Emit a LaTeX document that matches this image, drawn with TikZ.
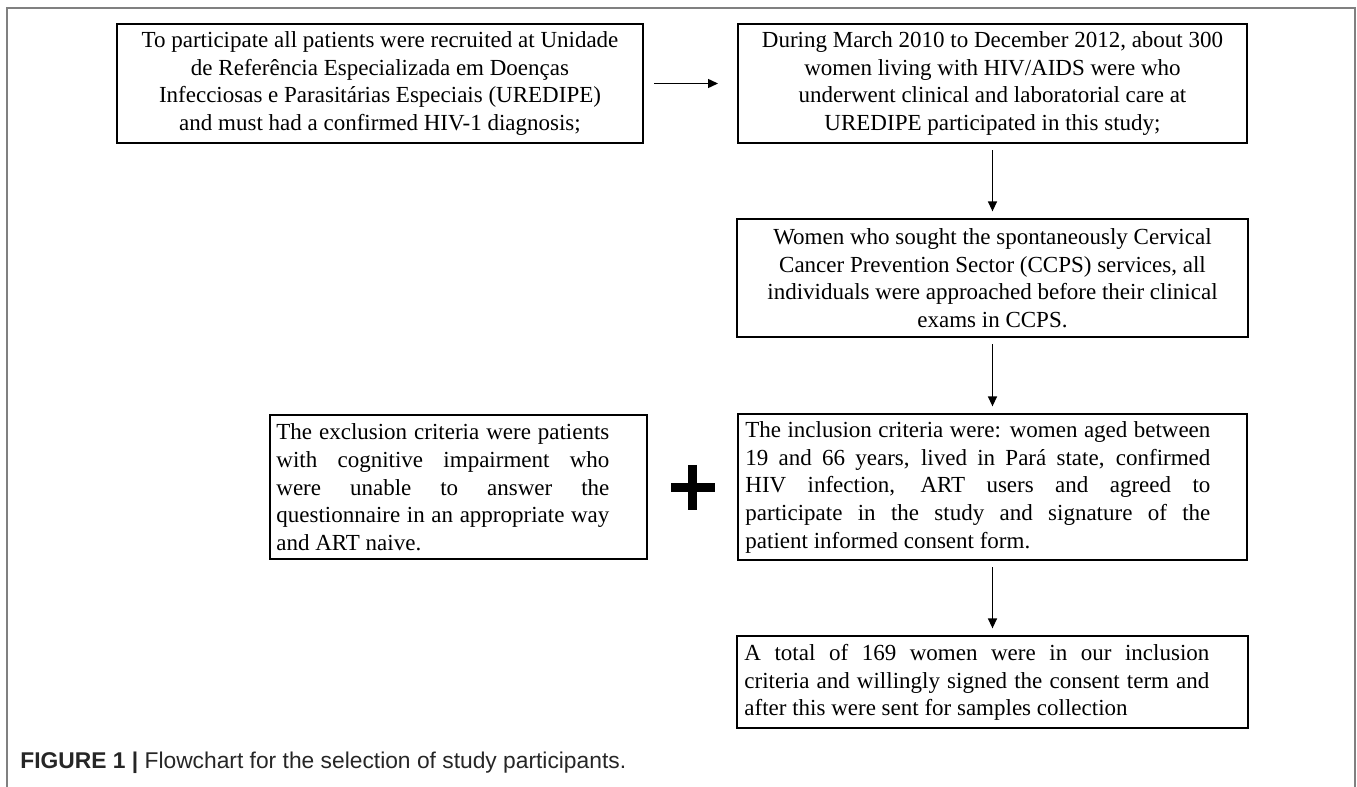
\documentclass[tikz,border=0pt]{standalone}
\usepackage{fontspec}
\setmainfont{Liberation Serif}
\setsansfont{Liberation Sans}
\usetikzlibrary{positioning, arrows.meta}

\newcommand{\boxfont}{\fontsize{11.5}{13.8}\selectfont}
\newcommand{\jfont}{\boxfont\sloppy\hyphenpenalty=10000\relax}

\begin{document}
\begin{tikzpicture}[x=0.5pt, y=-0.5pt, node distance=37pt,
        box/.style={rectangle, draw, line width=1pt, inner sep=4pt, font=\boxfont,
                    align=center, minimum height=59.5pt},
        jtext/.style={font=\jfont, align=justify, inner sep=0pt, anchor=west},
        arrow/.style={-{Triangle[length=5pt, width=4.5pt]}, line width=0.7pt,
                      shorten <=3pt, shorten >=3.5pt}]

        \useasboundingbox (0,0) rectangle (1357,787);
        % outer frame
        \draw[gray, line width=1pt] (7,787) -- (7,8) -- (1355,8) -- (1355,787);

        \node[box, minimum width=263pt] (recruit) at (380,83.5)
            {To participate all patients were recruited at Unidade\\
             de Referência Especializada em Doenças\\
             Infecciosas e Parasitárias Especiais (UREDIPE)\\
             and must had a confirmed HIV-1 diagnosis;};
        \node[box, minimum width=254.5pt, right=46.5pt of recruit] (period)
            {During March 2010 to December 2012, about 300\\
             women living with HIV/AIDS were who\\
             underwent clinical and laboratorial care at\\
             UREDIPE participated in this study;};
        \node[box, minimum width=255.5pt, minimum height=59pt, below=37pt of period] (ccps)
            {Women who sought the spontaneously Cervical\\
             Cancer Prevention Sector (CCPS) services, all\\
             individuals were approached before their clinical\\
             exams in CCPS.};
        \node[box, minimum width=254.5pt, minimum height=73pt, below=37.5pt of ccps] (incl) {};
        \node[box, minimum width=255.5pt, minimum height=46pt, below=37pt of incl] (total) {};
        \node[box, minimum width=188.5pt, minimum height=72pt, left=44.5pt of incl] (excl) {};

        % justified texts, flush left in their boxes
        \node[jtext, text width=232.5pt] (incltext) at ([xshift=4pt]incl.west)
            {The inclusion criteria were: women aged between\linebreak
             19 and 66 years, lived in Pará state, confirmed\linebreak
             HIV infection, ART users and agreed to\linebreak
             participate in the study and signature of the\linebreak
             patient informed consent form.};
        \node[jtext, text width=232.5pt] (totaltext) at ([xshift=4pt]total.west)
            {A total of 169 women were in our inclusion\linebreak
             criteria and willingly signed the consent term and\linebreak
             after this were sent for samples collection};
        \node[jtext, text width=166.5pt] (excltext) at ([xshift=3.5pt]excl.west)
            {The exclusion criteria were patients\linebreak
             with cognitive impairment who\linebreak
             were unable to answer the\linebreak
             questionnaire in an appropriate way\linebreak
             and ART naive.};

        % plus sign between the criteria
        \node[inner sep=0pt, minimum width=21.5pt, minimum height=22pt,
              right=11.5pt of excl] (plus) {};
        \draw[line width=4.5pt] (plus.north) -- (plus.south);
        \draw[line width=4.5pt] (plus.west) -- (plus.east);

        \draw[arrow, shorten <=5pt, shorten >=9.5pt] (recruit) -- (period);
        \draw[arrow] (period) -- (ccps);
        \draw[arrow] (ccps)   -- (incl);
        \draw[arrow] (incl)   -- (total);

        \node[anchor=base west, inner sep=0pt, text=black!85,
              font=\sffamily\fontsize{11.4}{13}\selectfont] (caption) at (20,768)
            {\textbf{FIGURE 1 |} Flowchart for the selection of study participants.};
\end{tikzpicture}
\end{document}
